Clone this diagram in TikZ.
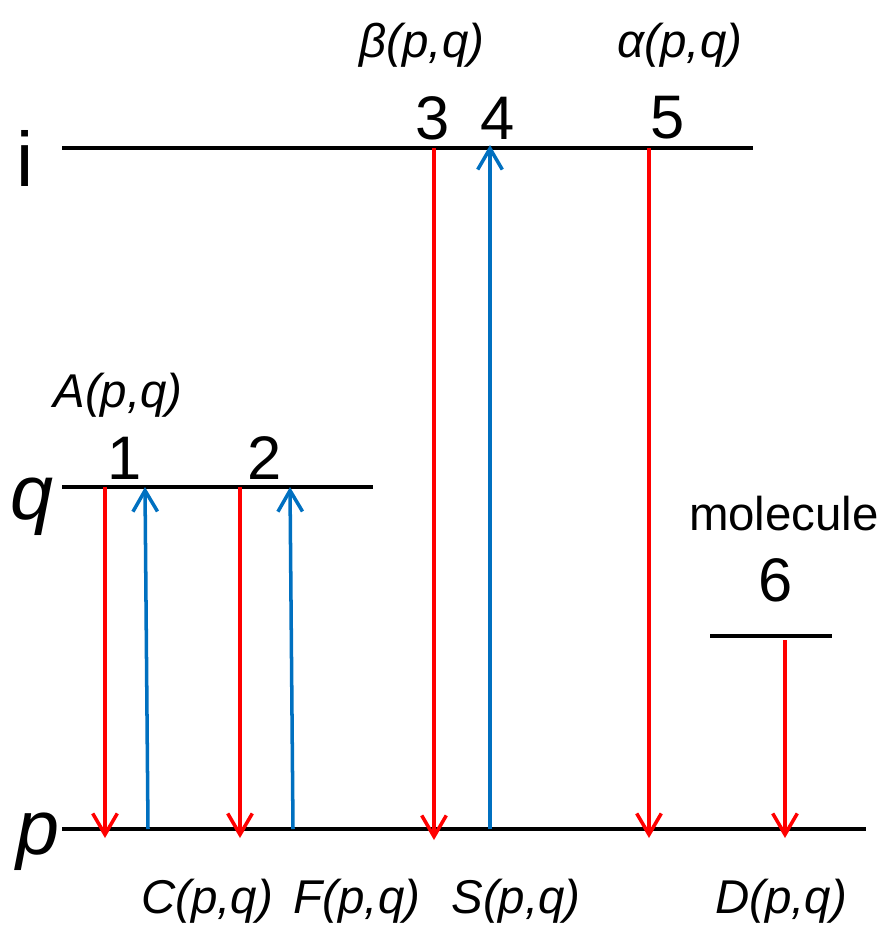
\documentclass[tikz,border=0pt]{standalone}
\usepackage{fontspec}
\setmainfont{Liberation Sans}
\usetikzlibrary{arrows.meta}
\definecolor{lvlred}{RGB}{255,0,0}
\definecolor{lvlblue}{RGB}{0,112,192}
\tikzset{
  level/.style={line width=2.3pt},
  down/.style={lvlred, line width=2pt, -{Straight Barb[length=12pt,width=14pt]}},
  up/.style={lvlblue, line width=2pt, -{Straight Barb[length=12pt,width=14pt]}},
  rate/.style={font=\fontsize{27}{31}\selectfont\itshape, inner sep=0pt},
  num/.style={font=\fontsize{35}{40}\selectfont, inner sep=0pt},
  state/.style={font=\fontsize{44}{50}\selectfont, inner sep=0pt}
}
\begin{document}
\begin{tikzpicture}[x=0.02cm, y=-0.02cm]
  \useasboundingbox (0,0) rectangle (882,930);
  % levels
  \draw[level] (62,148) -- (753,148);
  \draw[level] (62,487) -- (373,487);
  \draw[level] (62,829) -- (866,829);
  \draw[level] (710,636) -- (832,636);
  % level names
  \node[state] (li) at (25,158) {i};
  \node[state, font=\fontsize{44}{50}\selectfont\itshape] (lq) at (32,507) {q};
  \node[state, font=\fontsize{44}{50}\selectfont\itshape] (lp) at (38,842) {p};
  % transition end points
  \coordinate (q1) at (105,487);  \coordinate (p1) at (105,838);
  \coordinate (p1u) at (148,829); \coordinate (q1u) at (145,487);
  \coordinate (q2) at (240,487);  \coordinate (p2) at (240,838);
  \coordinate (p2u) at (293,829); \coordinate (q2u) at (290,487);
  \coordinate (i3) at (434,148);  \coordinate (p3) at (434,840);
  \coordinate (p4) at (490,829);  \coordinate (i4) at (490,145);
  \coordinate (i5) at (649,148);  \coordinate (p5) at (649,838);
  \coordinate (m6) at (785,640);  \coordinate (p6) at (785,838);
  % transitions
  \draw[down] (q1) -- (p1);
  \draw[up] (p1u) -- (q1u);
  \draw[down] (q2) -- (p2);
  \draw[up] (p2u) -- (q2u);
  \draw[down] (i3) -- (p3);
  \draw[up] (p4) -- (i4);
  \draw[down] (i5) -- (p5);
  \draw[down] (m6) -- (p6);
  % process numbers
  \node[num] (n1) at (125,458) {1};
  \node[num] (n2) at (265,458) {2};
  \node[num] (n3) at (433,118) {3};
  \node[num] (n4) at (498,118) {4};
  \node[num] (n5) at (668,118) {5};
  \node[num] (n6) at (776,580) {6};
  \node[rate, font=\fontsize{27}{31}\selectfont] (mol) at (784,514) {molecule};
  % rates
  \node[rate] (rA) at (118,395) {A(p,q)};
  \node[rate] (rb) at (422,45) {β(p,q)};
  \node[rate] (ra) at (680,45) {α(p,q)};
  \node[rate] (rC) at (207,901) {C(p,q)};
  \node[rate] (rF) at (357,901) {F(p,q)};
  \node[rate] (rS) at (516,901) {S(p,q)};
  \node[rate] (rD) at (781,901) {D(p,q)};
\end{tikzpicture}
\end{document}
